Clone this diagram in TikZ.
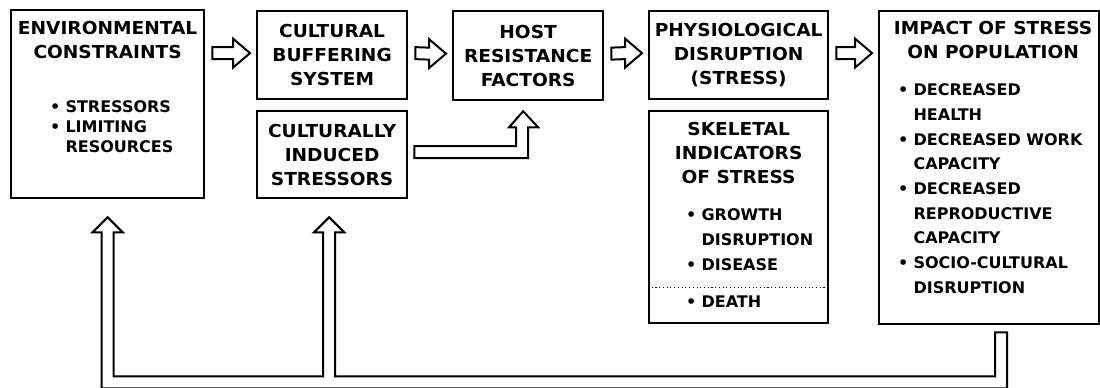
\documentclass[tikz,border=0pt]{standalone}
\usepackage{fontspec}
\setmainfont{DejaVu Sans}
\newfontfamily\wideface{DejaVu Sans}[FakeStretch=1.04]
\usetikzlibrary{calc,positioning}
\newcommand\ttlfont{\wideface\bfseries\fontsize{13.4}{18}\selectfont}
\newcommand\lstfont{\bfseries\fontsize{12}{15}\selectfont}
\newcommand\widelst{\bfseries\fontsize{12}{18.5}\selectfont}
\tikzset{every picture/.style={line width=1.5pt}}
\tikzset{
  box/.style={draw, line width=1.7pt, inner sep=0pt, anchor=north west, align=center, font=\ttlfont},
  ttl/.style={inner sep=0pt, anchor=base, align=center, font=\ttlfont},
  lst/.style={inner sep=0pt, anchor=base west},
  blk/.style={line width=1.5pt, line join=miter},
}
% block arrow pointing right, tail at #1, tip at #2
\newcommand\rarrow[2]{\draw[blk] ($(#1)+(7,-8)$) -- ($(#2)+(-23,-8)$) -- ($(#2)+(-23,-16.5)$) -- ($(#2)+(-6,-2)$) -- ($(#2)+(-23,12.5)$) -- ($(#2)+(-23,4)$) -- ($(#1)+(7,4)$) -- cycle ;}

\begin{document}
\begin{tikzpicture}[x=0.75pt,y=0.75pt,yscale=-1,xscale=1]
\useasboundingbox (0,0) rectangle (1100,388);

%Shape: Rectangle
\node[box, minimum width=144.75pt, minimum height=141pt] (env) at (10,9) {};
%Shape: Rectangle
\node[box, minimum width=112.5pt, minimum height=66pt] (cb) at (256,10) {CULTURAL\\BUFFERING\\SYSTEM};
%Shape: Rectangle
\node[box, minimum width=112.5pt, minimum height=65.25pt] (ci) at (256,110) {CULTURALLY\\INDUCED\\STRESSORS};
%Shape: Rectangle
\node[box, minimum width=112.5pt, minimum height=66.75pt] (host) at (452,10) {HOST\\RESISTANCE\\FACTORS};
%Shape: Rectangle
\node[box, minimum width=134.25pt, minimum height=66pt] (phys) at (648,10) {PHYSIOLOGICAL\\DISRUPTION\\(STRESS)};
%Shape: Rectangle
\node[box, minimum width=134.25pt, minimum height=159pt] (skel) at (648,110) {};
%Shape: Rectangle
\node[box, minimum width=165pt, minimum height=234.75pt] (impact) at (878,10) {};

%Dotted Line
\draw[dotted, line width=0.8pt] ($(skel.south west)+(0,-37)$) -- ($(skel.south east)+(0,-37)$) ;

% Text Node
\node[ttl] (envttl) at ($(env.north)+(0,49.5)$) {ENVIRONMENTAL\\CONSTRAINTS};
% Text Node
\node[lst] (envlst) at ($(env.north west)+(39,104)$) {\lstfont\begin{tabular}[t]{@{}l@{\hspace{4pt}}l@{}}
\textbullet & STRESSORS\\
\textbullet & LIMITING\\
 & RESOURCES
\end{tabular}};
% Text Node
\node[ttl] (skelttl) at ($(skel.north)+(0,73.5)$) {SKELETAL\\INDICATORS\\OF STRESS};
% Text Node
\node[lst] (skellst) at ($(skel.north west)+(37,111)$) {\widelst\begin{tabular}[t]{@{}l@{\hspace{4pt}}l@{}}
\textbullet & GROWTH\\
 & DISRUPTION\\
\textbullet & DISEASE
\end{tabular}};
% Text Node
\node[lst] (death) at ($(skel.north west)+(37,198)$) {\widelst\begin{tabular}[t]{@{}l@{\hspace{4pt}}l@{}}
\textbullet & DEATH
\end{tabular}};
% Text Node
\node[ttl] (impttl) at ($(impact.north)+(4,48.5)$) {IMPACT OF STRESS\\ON POPULATION};
% Text Node
\node[lst] (implst) at ($(impact.north west)+(19,86)$) {\widelst\begin{tabular}[t]{@{}l@{\hspace{4pt}}l@{}}
\textbullet & DECREASED\\
 & HEALTH\\
\textbullet & DECREASED WORK\\
 & CAPACITY\\
\textbullet & DECREASED\\
 & REPRODUCTIVE\\
 & CAPACITY\\
\textbullet & SOCIO-CULTURAL\\
 & DISRUPTION
\end{tabular}};

%Block Arrows
\rarrow{env.east |- cb.west}{cb.west}
\rarrow{cb.east}{host.west}
\rarrow{host.east}{phys.west}
\rarrow{phys.east}{impact.west |- phys.east}

%Bent Arrow
\draw[blk] ($(ci.east)+(6,-8.5)$) -| ($(host.south)+(-12,26)$) -- ++(-7,0) -- ($(host.south)+(-5,10)$) -- ++(15,16) -- ++(-10,0) |- ($(ci.east)+(6,3.5)$) -- cycle ;

%Feedback Arrow
\coordinate (fbl) at ($(env.south)+(0,18)$);
\coordinate (fbm) at ($(ci.south)+(-3,18)$);
\coordinate (fbr) at ($(impact.south)+(12,7)$);
\draw[blk] (fbl) -- ++(15,15) -- ++(-9,0) |- ($(fbm)+(-6,159)$) -- ++(0,-144) -- ++(-9,0) -- (fbm) -- ++(15,15) -- ++(-9,0) |- ($(fbr)+(-6,44)$) -- ++(0,-44) -- ++(12,0) |- ($(fbl)+(-6,171)$) -- ++(0,-156) -- ++(-9,0) -- cycle ;
\end{tikzpicture}
\end{document}
